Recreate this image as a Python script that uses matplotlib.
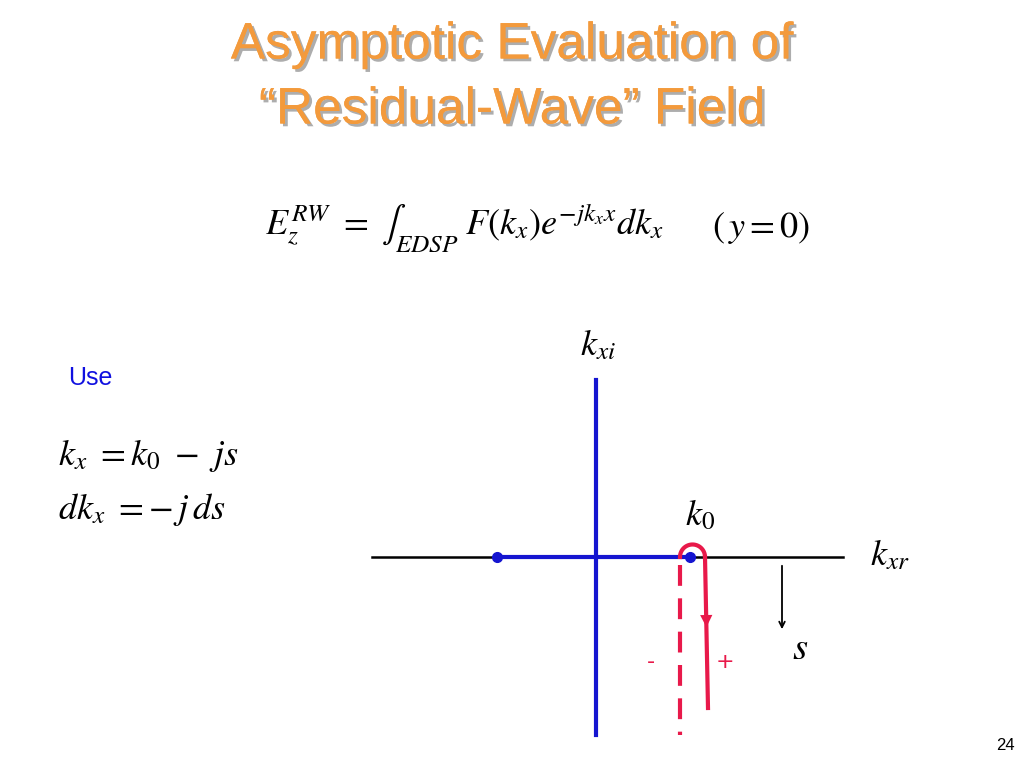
import matplotlib
matplotlib.use("Agg")
import matplotlib.pyplot as plt
import matplotlib.patheffects as pe
import numpy as np

plt.rcParams['mathtext.fontset'] = 'stix'

title_lines = ["Asymptotic Evaluation of", "\u201cResidual-Wave\u201d Field"]
real_axis = [372, 843]
imag_axis = [380, 735]
branch_pts = [497, 690]
axis_y = 557
contour_x = [680, 705]
contour_bottom = 708

fig = plt.figure(figsize=(10.24, 7.68), dpi=100)
ax = fig.add_axes([0, 0, 1, 1])
ax.set_xlim(0, 1024); ax.set_ylim(768, 0); ax.axis('off')

orange = '#F39A3C'
for i, t in enumerate(title_lines):
    ax.text(512, 45 + 65*i, t, ha='center', va='center', fontsize=37, color=orange,
            family='Liberation Sans',
            path_effects=[pe.withSimplePatchShadow(offset=(2, -2), shadow_rgbFace='#999999', alpha=0.8), pe.Normal()])

ax.text(265, 228, r"$E_z^{RW}\ =\ \int_{EDSP}\ F\left(k_x\right)e^{-jk_x x}dk_x$", fontsize=26, va='center')
ax.text(712, 228, r"$(\,y=0)$", fontsize=26, va='center')
ax.text(68, 378, "Use", fontsize=18, color='#1010E0', va='center', family='Liberation Sans')
ax.text(58, 455, r"$k_x\ =k_0\ -\ js$", fontsize=26, va='center')
ax.text(58, 510, r"$dk_x\ =-\,j\,ds$", fontsize=26, va='center')

ax.plot(real_axis, [axis_y]*2, color='black', lw=1.8)
ax.plot([596, 596], imag_axis, color='#1515D0', lw=3)
ax.plot(branch_pts, [axis_y]*2, color='#1515D0', lw=3)
ax.plot(branch_pts, [axis_y]*2, 'o', color='#1515D0', ms=7)

red = '#E8194A'
ax.plot([contour_x[0]]*2, [565, 735], color=red, lw=3, dashes=(5, 3))
r = (contour_x[1]-contour_x[0])/2
th = np.linspace(np.pi, 0, 50)
cx = contour_x[0] + r
ax.plot(cx + r*np.cos(th), axis_y - r*np.sin(th), color=red, lw=3)
ax.plot([contour_x[1], contour_x[1]+3], [axis_y, contour_bottom], color=red, lw=3)
ax.annotate('', xy=(706.5, 630), xytext=(706, 600),
            arrowprops=dict(arrowstyle='-|>', color=red, lw=0, mutation_scale=22))

ax.annotate('', xy=(782, 632), xytext=(782, 563),
            arrowprops=dict(arrowstyle='->', color='black', lw=1.3))

ax.text(580, 345, r"$k_{xi}$", fontsize=26, va='center')
ax.text(685, 515, r"$k_0$", fontsize=26, va='center')
ax.text(870, 555, r"$k_{xr}$", fontsize=26, va='center')
ax.text(792, 648, r"$s$", fontsize=28, va='center')
ax.text(651, 662, "-", fontsize=16, color=red, ha='center', va='center')
ax.text(725, 662, "+", fontsize=16, color=red, ha='center', va='center')
ax.text(1005, 745, "24", fontsize=12, ha='center', va='center', family='Liberation Sans')

fig.savefig("out.png", dpi=100)
